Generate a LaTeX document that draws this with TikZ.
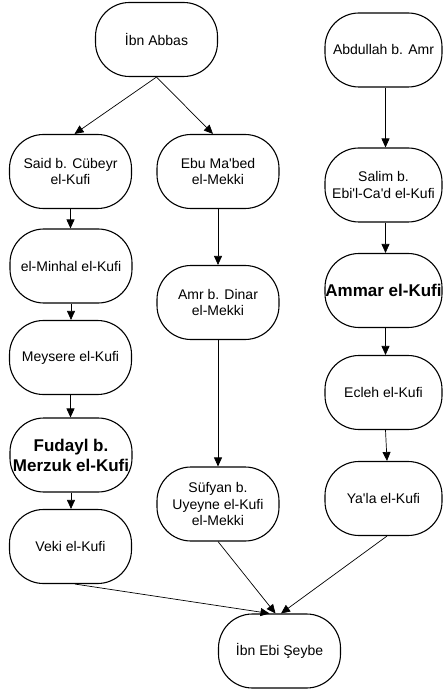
\documentclass[tikz,border=0pt]{standalone}
\usepackage{fontspec}
\setmainfont{Liberation Sans}[Ligatures=TeXOff]
\usetikzlibrary{arrows.meta}
\begin{document}
\begin{tikzpicture}[x=1pt,y=-1pt,
  person/.style={draw, line width=1.1pt, rounded corners=34pt, minimum width=122pt,
    minimum height=74pt, align=center, inner sep=0pt,
    font=\fontsize{14}{16.7}\selectfont},
  rperson/.style={person, minimum width=117pt},
  strong/.style={font=\fontsize{17}{20}\selectfont\bfseries},
  link/.style={line width=0.7pt, -{Triangle[length=9pt,width=8pt]}}]
\useasboundingbox (0,0) rectangle (442,692);
\node[person] (ibn) at (156.5,39.5) {İbn Abbas};
\node[rperson] (abd) at (383.5,50) {Abdullah b. Amr};
\node[person] (said) at (70.5,171.5) {Said b. Cübeyr\\el-Kufi};
\node[person] (ebu) at (218,171.5) {Ebu Ma'bed\\el-Mekki};
\node[rperson] (salim) at (383.5,185) {Salim b.\\Ebi'l-Ca'd el-Kufi};
\node[person] (minhal) at (71,266) {el-Minhal el-Kufi};
\node[person] (amr) at (218,302.5) {Amr b. Dinar\\el-Mekki};
\node[rperson, strong] (ammar) at (383.5,290.5) {Ammar el-Kufi};
\node[person] (meysere) at (70.5,357.5) {Meysere el-Kufi};
\node[rperson] (ecleh) at (383.5,392.5) {Ecleh el-Kufi};
\node[person, strong] (fudayl) at (71,455) {Fudayl b.\\Merzuk el-Kufi};
\node[person] (sufyan) at (218,504) {Süfyan b.\\Uyeyne el-Kufi\\el-Mekki};
\node[rperson] (yala) at (383.5,498.5) {Ya'la el-Kufi};
\node[person] (veki) at (70.5,546.5) {Veki el-Kufi};
\node[person] (ebi) at (279.5,651) {İbn Ebi Şeybe};
\draw[link] (ibn.south) -- ([xshift=4pt]said.north);
\draw[link] (ibn.south) -- ([xshift=-5pt]ebu.north);
\draw[link] (said.south) -- (said.south |- minhal.north);
\draw[link] (minhal.south) -- (minhal.south |- meysere.north);
\draw[link] (meysere.south) -- (meysere.south |- fudayl.north);
\draw[link] (fudayl.south) -- (fudayl.south |- veki.north);
\draw[link] (ebu.south) -- (amr.north);
\draw[link] (amr.south) -- (sufyan.north);
\draw[link] ([xshift=2pt]abd.south) -- ([xshift=2pt]salim.north);
\draw[link] ([xshift=2pt]salim.south) -- ([xshift=2pt]ammar.north);
\draw[link] ([xshift=2pt]ammar.south) -- ([xshift=2pt]ecleh.north);
\draw[link] ([xshift=2pt]ecleh.south) -- ([xshift=3.5pt]yala.north);
\draw[link] ([xshift=4.5pt]veki.south) -- ([xshift=-10pt]ebi.north);
\draw[link] (sufyan.south) -- ([xshift=-4pt]ebi.north);
\draw[link] ([xshift=3.5pt]yala.south) -- ([xshift=1.5pt]ebi.north);
\end{tikzpicture}
\end{document}
